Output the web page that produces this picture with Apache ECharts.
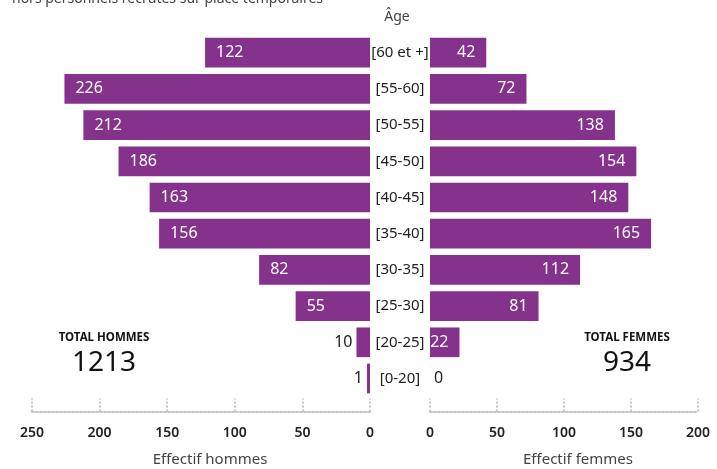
<!DOCTYPE html>
<html>
<head>
<meta charset="utf-8">
<script src="https://cdn.jsdelivr.net/npm/echarts@6/dist/echarts.min.js"></script>
<style>
html,body{margin:0;padding:0;background:#fff;}
#chart{width:717px;height:469px;}
</style>
</head>
<body>
<div id="chart"></div>
<script>
const categories = ['[60 et +]', '[55-60]', '[50-55]', '[45-50]', '[40-45]', '[35-40]', '[30-35]', '[25-30]', '[20-25]', '[0-20]'];
const hommes = [122, 226, 212, 186, 163, 156, 82, 55, 10, 1];
const femmes = [42, 72, 138, 154, 148, 165, 112, 81, 22, 0];
const totalHommes = '1213';
const totalFemmes = '934';
const ticksHommes = [0, 50, 100, 150, 200, 250];
const ticksFemmes = [0, 50, 100, 150, 200];

const FONT = '"Noto Sans", sans-serif';
const PURPLE = '#84328b';
const DARK = '#222';

function labelled(vals, insidePos, outsidePos) {
  return vals.map(v => ({
    value: v,
    label: v >= 20
      ? { position: insidePos, color: '#fff', distance: 11 }
      : { position: outsidePos, color: DARK, distance: 4 }
  }));
}

const axisCommon = {
  type: 'value',
  min: 0,
  interval: 50,
  position: 'bottom',
  offset: 15,
  splitLine: { show: false },
  axisLine: { show: true, lineStyle: { type: 'dotted', color: '#c4c4c4', width: 2 } },
  axisTick: { show: true, inside: true, length: 13, lineStyle: { type: 'dotted', color: '#c4c4c4', width: 2 } },
  axisLabel: { show: true, margin: 14, fontFamily: FONT, fontSize: 14, fontWeight: 600, color: DARK }
};

const chart = echarts.init(document.getElementById('chart'), null, { renderer: 'canvas' });
chart.setOption({
  animation: false,
  backgroundColor: '#fff',
  grid: [
    { left: 32, right: 347, top: 34.6, bottom: 72.4 },
    { left: 430, right: 19, top: 34.6, bottom: 72.4 }
  ],
  xAxis: [
    Object.assign({}, axisCommon, { gridIndex: 0, inverse: true, max: ticksHommes[ticksHommes.length - 1] }),
    Object.assign({}, axisCommon, { gridIndex: 1, max: ticksFemmes[ticksFemmes.length - 1] })
  ],
  yAxis: [
    {
      type: 'category', gridIndex: 0, data: categories, inverse: true, position: 'right',
      axisLine: { show: false }, axisTick: { show: false },
      axisLabel: { margin: 30, align: 'center', fontFamily: FONT, fontSize: 15, color: DARK }
    },
    {
      type: 'category', gridIndex: 1, data: categories, inverse: true,
      axisLine: { show: false }, axisTick: { show: false }, axisLabel: { show: false }
    }
  ],
  series: [
    {
      type: 'bar', name: 'Hommes', xAxisIndex: 0, yAxisIndex: 0,
      data: labelled(hommes, 'insideLeft', 'left'),
      barCategoryGap: '18%', barMinHeight: 3,
      itemStyle: { color: PURPLE },
      label: { show: true, fontFamily: FONT, fontSize: 16 }
    },
    {
      type: 'bar', name: 'Femmes', xAxisIndex: 1, yAxisIndex: 1,
      data: labelled(femmes, 'insideRight', 'right'),
      barCategoryGap: '18%',
      itemStyle: { color: PURPLE },
      label: { show: true, fontFamily: FONT, fontSize: 16 }
    }
  ],
  graphic: [
    { type: 'text', left: 12, top: -8, style: { text: 'hors personnels recrutés sur place temporaires', fontFamily: FONT, fontSize: 14, fill: '#444' } },
    { type: 'text', x: 397, y: 17, style: { text: 'Âge', fontFamily: FONT, fontSize: 14, fill: '#444', align: 'center', verticalAlign: 'middle' } },
    { type: 'text', x: 104, y: 338, style: { text: 'TOTAL HOMMES', fontFamily: FONT, fontSize: 11.5, fontWeight: 'bold', fill: '#111', align: 'center', verticalAlign: 'middle' } },
    { type: 'text', x: 104, y: 363, style: { text: totalHommes, fontFamily: FONT, fontSize: 28, fill: '#111', align: 'center', verticalAlign: 'middle' } },
    { type: 'text', x: 627, y: 338, style: { text: 'TOTAL FEMMES', fontFamily: FONT, fontSize: 11.5, fontWeight: 'bold', fill: '#111', align: 'center', verticalAlign: 'middle' } },
    { type: 'text', x: 627, y: 363, style: { text: totalFemmes, fontFamily: FONT, fontSize: 28, fill: '#111', align: 'center', verticalAlign: 'middle' } },
    { type: 'text', x: 210, y: 460, style: { text: 'Effectif hommes', fontFamily: FONT, fontSize: 15, fill: '#444', align: 'center', verticalAlign: 'middle' } },
    { type: 'text', x: 578, y: 460, style: { text: 'Effectif femmes', fontFamily: FONT, fontSize: 15, fill: '#444', align: 'center', verticalAlign: 'middle' } }
  ]
});
</script>
</body>
</html>
